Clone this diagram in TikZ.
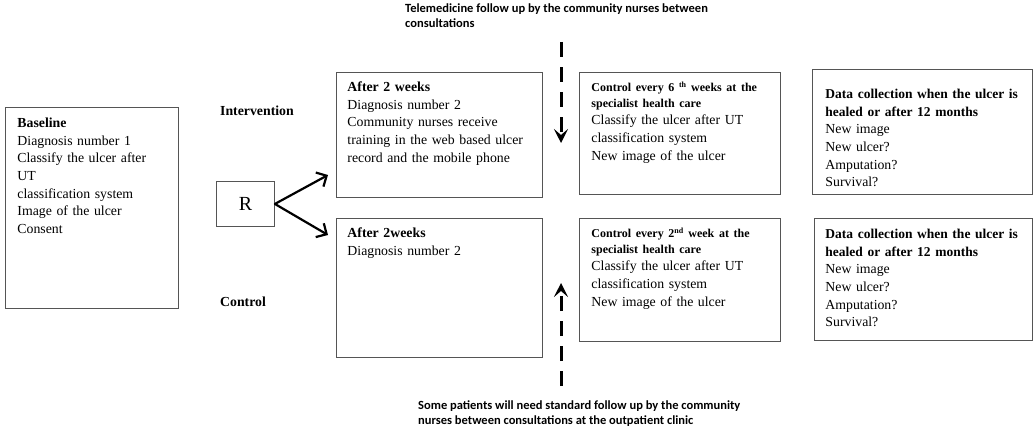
\documentclass[tikz,border=0pt]{standalone}
\usepackage{fontspec}
\setmainfont{Liberation Serif}
\newfontfamily\calibri{Carlito}
\usepackage{tikz}
\usetikzlibrary{arrows.meta}
\definecolor{ink}{HTML}{000000}
\definecolor{frame}{HTML}{555555}
\newcommand{\bodyfont}{\fontsize{13.8}{17.7}\selectfont}
\newcommand{\headfont}{\fontsize{12}{15.7}\selectfont\bfseries}
\newcommand{\datafont}{\fontsize{13.5}{17.7}\selectfont\bfseries}
\newcommand{\notefont}{\fontsize{12.5}{15}\selectfont\calibri\bfseries}
\tikzset{
  box/.style={draw=frame, line width=0.9pt, anchor=north west, align=left,
    inner xsep=11pt, inner ysep=0pt, text height=19pt, font=\bodyfont},
  arm/.style={draw=ink, line width=2.2pt, line cap=round,
    -{Straight Barb[length=8pt,width=16pt]}},
  fup/.style={draw=ink, line width=3pt, dash pattern=on 15pt off 10pt,
    -{Stealth[length=14pt,width=14pt,inset=6pt]}},
  grp/.style={anchor=west, font=\bodyfont\bfseries, inner sep=0pt},
  note/.style={anchor=north west, align=left, inner sep=0pt, font=\notefont},
}

\begin{document}
\begin{tikzpicture}[x=1pt,y=-1pt]
  \useasboundingbox (0,0) rectangle (1035,436);
  % start and randomisation
  \node[box, inner xsep=12pt, text width=149pt, text height=20pt, text depth=181pt] (base) at (5,107)
    {\textbf{Baseline}\\Diagnosis number 1\\Classify the ulcer after\\UT\\classification system\\Image of the ulcer\\Consent};
  \node[draw=frame, line width=0.9pt, anchor=north west, minimum width=58pt, minimum height=45pt,
    inner sep=0pt, font=\fontsize{20}{24}\selectfont] (rand) at (216,181) {R};
  \node[grp] (lint) at (220,111) {Intervention};
  \node[grp] (lctl) at (220,302) {Control};
  \coordinate (armI) at (328,175);
  \coordinate (armC) at (328,235);
  \draw[arm] (rand.east) -- (armI);
  \draw[arm] (rand.east) -- (armC);
  % after two weeks
  \node[box, text width=184pt, text depth=106pt] (int2w) at (336,72)
    {\textbf{After 2 weeks}\\Diagnosis number 2\\Community nurses receive\\training in the web based ulcer\\record and the mobile phone};
  \node[box, text width=184pt, text depth=120pt] (ctl2w) at (336,218)
    {\textbf{After 2weeks}\\Diagnosis number 2};
  % controls at the specialist health care
  \node[box, inner xsep=12pt, text width=177pt, text depth=103pt] (intctl) at (579,72)
    {{\headfont Control every 6 \textsuperscript{th} weeks at the}\\[-2pt]{\headfont specialist health care}\\Classify the ulcer after UT\\classification system\\New image of the ulcer};
  \node[box, inner xsep=12pt, text width=177pt, text depth=104pt] (ctlctl) at (579,218)
    {{\headfont Control every 2\textsuperscript{nd} week at the}\\[-2pt]{\headfont specialist health care}\\Classify the ulcer after UT\\classification system\\New image of the ulcer};
  % data collection
  \node[box, inner xsep=13pt, text width=194pt, text height=29pt, text depth=96pt] (intdata) at (812,69)
    {\mbox{\datafont Data collection when the ulcer is}\\\mbox{\datafont healed or after 12 months}\\New image\\New ulcer?\\Amputation?\\Survival?};
  \node[box, inner xsep=11pt, text width=196pt, text height=20pt, text depth=102pt] (ctldata) at (814,218)
    {\mbox{\datafont Data collection when the ulcer is}\\\mbox{\datafont healed or after 12 months}\\New image\\New ulcer?\\Amputation?\\Survival?};
  % follow up between consultations
  \node[note] (tele) at (405,4)
    {Telemedicine follow up by the community nurses between\\consultations};
  \node[note] (std) at (418,401)
    {Some patients will need standard follow up by the community\\nurses between consultations at the outpatient clinic};
  \coordinate (teleS) at (561,42);
  \coordinate (teleE) at (561,143);
  \coordinate (stdS) at (561,386);
  \coordinate (stdE) at (561,283);
  \draw[fup] (teleS) -- (teleE);
  \draw[fup] (stdS) -- (stdE);
\end{tikzpicture}
\end{document}
